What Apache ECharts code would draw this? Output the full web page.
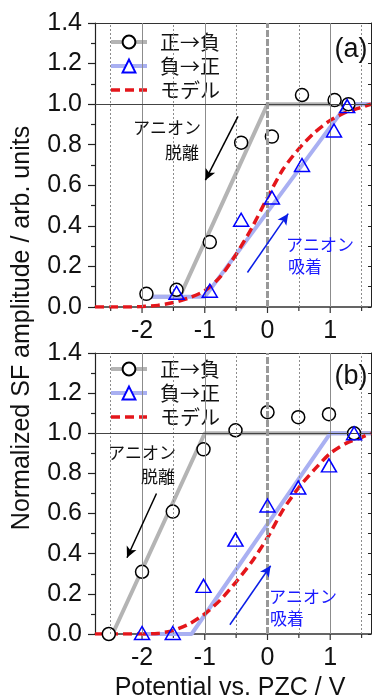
<!DOCTYPE html>
<html>
<head>
<meta charset="utf-8">
<script src="https://cdn.jsdelivr.net/npm/echarts@6/dist/echarts.min.js"></script>
<style>
html,body{margin:0;padding:0;background:#fff;}
#c{width:374px;height:700px;}
</style>
</head>
<body>
<div id="c"></div>
<script>
// ---------- data ----------
const legendNames = ['正→負', '負→正', 'モデル'];
const xTickMajor = [-2, -1, 0, 1];
const xTickMinor = [-2.5, -1.5, -0.5, 0.5, 1.5];

// panel (a)
const circleXA = [-1.93, -1.45, -0.92, -0.42, 0.07, 0.55, 1.07, 1.29];
const circleYA = [0.065, 0.085, 0.32, 0.81, 0.84, 1.045, 1.02, 1.0];
const triXA = [-1.45, -0.92, -0.42, 0.07, 0.55, 1.06, 1.27];
const triYA = [0.07, 0.08, 0.43, 0.54, 0.70, 0.87, 0.99];
const grayXA = [-1.93, -1.4, 0, 1.65];
const grayYA = [0.05, 0.05, 1.0, 1.0];
const blueXA = [-1.93, -1.0, 1.27, 1.65];
const blueYA = [0.05, 0.05, 1.0, 1.0];
const modelX = [-2.75, -2.5, -2.25, -2, -1.75, -1.5, -1.25, -1, -0.75, -0.5, -0.25, 0, 0.25, 0.5, 0.75, 1, 1.25, 1.5, 1.65];
const modelYA = [0, 0, 0, 0.002, 0.008, 0.022, 0.045, 0.08, 0.15, 0.26, 0.39, 0.54, 0.68, 0.78, 0.86, 0.92, 0.96, 0.985, 1.0];

// panel (b)
const circleXB = [-2.53, -2.0, -1.51, -1.02, -0.51, 0.0, 0.49, 0.98, 1.38];
const circleYB = [0.0, 0.31, 0.61, 0.92, 1.015, 1.105, 1.08, 1.095, 1.0];
const triXB = [-2.0, -1.51, -1.02, -0.51, 0.0, 0.49, 0.98, 1.38];
const triYB = [0.005, 0.005, 0.24, 0.47, 0.64, 0.73, 0.84, 1.0];
const grayXB = [-2.53, -2.47, -1.0, 1.65];
const grayYB = [0, 0, 1.0, 1.0];
const blueXB = [-2.0, -1.21, 1.0, 1.65];
const blueYB = [0, 0, 1.0, 1.0];
const modelYB = [0, 0, 0, 0, 0.003, 0.018, 0.05, 0.1, 0.17, 0.26, 0.36, 0.48, 0.62, 0.73, 0.82, 0.9, 0.95, 0.98, 1.0];

// annotation arrows [x1, y1, x2, y2] in data units
const arrowDesorbA = [-0.47, 0.94, -0.99, 0.625];
const arrowAdsorbA = [-0.32, 0.17, 0.33, 0.46];
const arrowDesorbB = [-1.77, 0.70, -2.24, 0.38];
const arrowAdsorbB = [-0.60, 0.046, 0.05, 0.34];

// ---------- helpers ----------
const zip = (xs, ys) => xs.map((x, i) => [x, ys[i]]);
const LATIN = '"Liberation Sans", Arial, sans-serif';
const CJK = '"Noto Sans CJK JP", sans-serif';
const GRAY = '#b4b4b4';
const LBLUE = '#a9b0f2';
const RED = '#e4161b';

function panel(p, d) {
  const xi = 2 * p, yi = 2 * p;
  const tickData = xTickMajor.map(v => [v, 1]).concat(xTickMinor.map(v => [v, 0]));
  const gridLines = [];
  [-2, -1, 1].forEach(v => gridLines.push({xAxis: v, lineStyle: {color: '#8c8c8c', width: 1, type: 'solid'}}));
  xTickMinor.forEach(v => gridLines.push({xAxis: v, lineStyle: {color: '#8c8c8c', width: 1, type: [2, 2]}}));
  gridLines.push({yAxis: 1.0, lineStyle: {color: '#444', width: 1, type: 'solid'}});
  gridLines.push({xAxis: 0, lineStyle: {color: '#999', width: 3, type: [7, 2]}});
  const arrow = (a, color) => [{coord: [a[0], a[1]], lineStyle: {color: color}}, {coord: [a[2], a[3]]}];
  return [
    {
      type: 'custom', xAxisIndex: xi, yAxisIndex: yi, clip: false, silent: true, z: 1,
      data: tickData,
      renderItem: function (params, api) {
        const pt = api.coord([api.value(0), 0]);
        const len = api.value(1) ? 6 : 4;
        return {type: 'line', shape: {x1: pt[0], y1: pt[1], x2: pt[0], y2: pt[1] + len},
                style: {stroke: '#333', lineWidth: 1.2}};
      },
      markLine: {silent: true, symbol: ['none', 'none'], label: {show: false}, animation: false, data: gridLines}
    },
    {
      name: legendNames[0], type: 'line', xAxisIndex: xi, yAxisIndex: yi, z: 2,
      data: zip(d.grayX, d.grayY), showSymbol: false, symbol: 'circle', symbolSize: 12,
      lineStyle: {color: GRAY, width: 4},
      itemStyle: {color: '#fff', borderColor: '#000', borderWidth: 1.5}
    },
    {
      name: legendNames[1], type: 'line', xAxisIndex: xi, yAxisIndex: yi, z: 2,
      data: zip(d.blueX, d.blueY), showSymbol: false, symbol: 'triangle', symbolSize: 14,
      lineStyle: {color: LBLUE, width: 4},
      itemStyle: {color: '#fff', borderColor: '#0000ff', borderWidth: 1.5}
    },
    {
      name: legendNames[2], type: 'line', xAxisIndex: xi, yAxisIndex: yi, z: 3,
      data: zip(modelX, d.modelY), showSymbol: false, symbol: 'none', smooth: 0.25,
      lineStyle: {color: RED, width: 3.5, type: [9, 5]},
      itemStyle: {color: RED}
    },
    {
      name: 'circles' + p, type: 'scatter', xAxisIndex: xi, yAxisIndex: yi, z: 4,
      data: zip(d.cX, d.cY), symbol: 'circle', symbolSize: 13,
      itemStyle: {color: '#fff', borderColor: '#000', borderWidth: 1.5, opacity: 1}
    },
    {
      name: 'triangles' + p, type: 'scatter', xAxisIndex: xi, yAxisIndex: yi, z: 5,
      data: zip(d.tX, d.tY), symbol: 'triangle', symbolSize: [15, 13],
      itemStyle: {color: 'rgba(255,255,255,0)', borderColor: '#0000ff', borderWidth: 1.5, opacity: 1},
      markLine: {
        silent: true, animation: false, symbol: ['none', 'arrow'], symbolSize: [8, 11],
        label: {show: false}, lineStyle: {width: 1.5, type: 'solid'},
        data: [arrow(d.arrow1, '#000'), arrow(d.arrow2, '#0a1ee6')]
      }
    }
  ];
}

const series = []
  .concat(panel(0, {grayX: grayXA, grayY: grayYA, blueX: blueXA, blueY: blueYA, modelY: modelYA,
                    cX: circleXA, cY: circleYA, tX: triXA, tY: triYA,
                    arrow1: arrowDesorbA, arrow2: arrowAdsorbA}))
  .concat(panel(1, {grayX: grayXB, grayY: grayYB, blueX: blueXB, blueY: blueYB, modelY: modelYB,
                    cX: circleXB, cY: circleYB, tX: triXB, tY: triYB,
                    arrow1: arrowDesorbB, arrow2: arrowAdsorbB}));

function xAxes(g) {
  const base = {type: 'value', gridIndex: g, min: -2.75, max: 1.65, interval: 0.25, splitLine: {show: false}};
  return [
    Object.assign({}, base, {
      position: 'bottom',
      axisLine: {show: true, onZero: false, lineStyle: {color: '#333', width: 1.5}},
      axisTick: {show: false},
      axisLabel: {
        fontSize: 25, fontFamily: LATIN, color: '#111', margin: 12,
        formatter: v => (Math.abs(v - Math.round(v)) < 1e-6 ? String(Math.round(v)) : '')
      }
    }),
    Object.assign({}, base, {
      position: 'top',
      axisLine: {show: true, onZero: false, lineStyle: {color: '#333', width: 1}},
      axisTick: {show: false}, axisLabel: {show: false}
    })
  ];
}
function yAxes(g) {
  const base = {type: 'value', gridIndex: g, min: 0, max: 1.4, interval: 0.2, splitLine: {show: false}};
  return [
    Object.assign({}, base, {
      position: 'left',
      axisLine: {show: true, onZero: false, lineStyle: {color: '#222', width: 1.2}},
      axisTick: {show: true, inside: false, length: 7, lineStyle: {color: '#222', width: 1.2}},
      minorTick: {show: true, splitNumber: 2, length: 4, lineStyle: {color: '#222', width: 1.2}},
      axisLabel: {fontSize: 25, fontFamily: LATIN, color: '#111', margin: 13, formatter: v => v.toFixed(1)}
    }),
    Object.assign({}, base, {
      position: 'right',
      axisLine: {show: true, onZero: false, lineStyle: {color: '#222', width: 1}},
      axisTick: {show: true, inside: true, length: 3, lineStyle: {color: '#222'}},
      minorTick: {show: true, splitNumber: 2, length: 3, lineStyle: {color: '#222'}},
      axisLabel: {show: false}
    })
  ];
}

function legendAt(top) {
  return {
    data: [
      {name: legendNames[0], lineStyle: {width: 4, color: GRAY}},
      {name: legendNames[1], lineStyle: {width: 4, color: LBLUE}},
      {name: legendNames[2], lineStyle: {width: 3.5, color: RED, type: [9, 5]},
       itemStyle: {color: 'rgba(0,0,0,0)', borderWidth: 0, opacity: 0}}
    ],
    orient: 'vertical', left: 104, top: top,
    itemWidth: 36, itemHeight: 16, itemGap: 4, selectedMode: false,
    textStyle: {fontSize: 20, fontFamily: CJK, color: '#111', padding: [0, 0, 0, 8]}
  };
}

function txt(x, y, s, size, color, font) {
  return {type: 'text', x: x, y: y, silent: true, z: 100,
          style: {text: s, fontSize: size, fontFamily: font || CJK, fill: color || '#111',
                  textAlign: 'center', textVerticalAlign: 'middle'}};
}

const option = {
  animation: false,
  backgroundColor: '#fff',
  grid: [
    {left: 95, top: 23, width: 280, height: 284},
    {left: 95, top: 353, width: 280, height: 281}
  ],
  xAxis: xAxes(0).concat(xAxes(1)),
  yAxis: yAxes(0).concat(yAxes(1)),
  legend: [legendAt(27), legendAt(354)],
  series: series,
  graphic: [
    txt(351, 50, '(a)', 27, '#111', LATIN),
    txt(351, 377, '(b)', 27, '#111', LATIN),
    txt(167, 128, 'アニオン', 17, '#111'),
    txt(182, 153, '脱離', 17, '#111'),
    txt(320, 245, 'アニオン', 17, '#1a1aff'),
    txt(305, 267, '吸着', 17, '#1a1aff'),
    txt(142, 453, 'アニオン', 17, '#111'),
    txt(158, 477, '脱離', 17, '#111'),
    txt(303, 597, 'アニオン', 17, '#1a1aff'),
    txt(287, 619, '吸着', 17, '#1a1aff'),
    txt(230, 688, 'Potential vs. PZC / V', 25, '#111', LATIN),
    Object.assign(txt(22, 328, 'Normalized SF amplitude / arb. units', 25, '#111', LATIN), {rotation: Math.PI / 2})
  ]
};

const chart = echarts.init(document.getElementById('c'), null, {renderer: 'canvas'});
chart.setOption(option);
</script>
</body>
</html>
